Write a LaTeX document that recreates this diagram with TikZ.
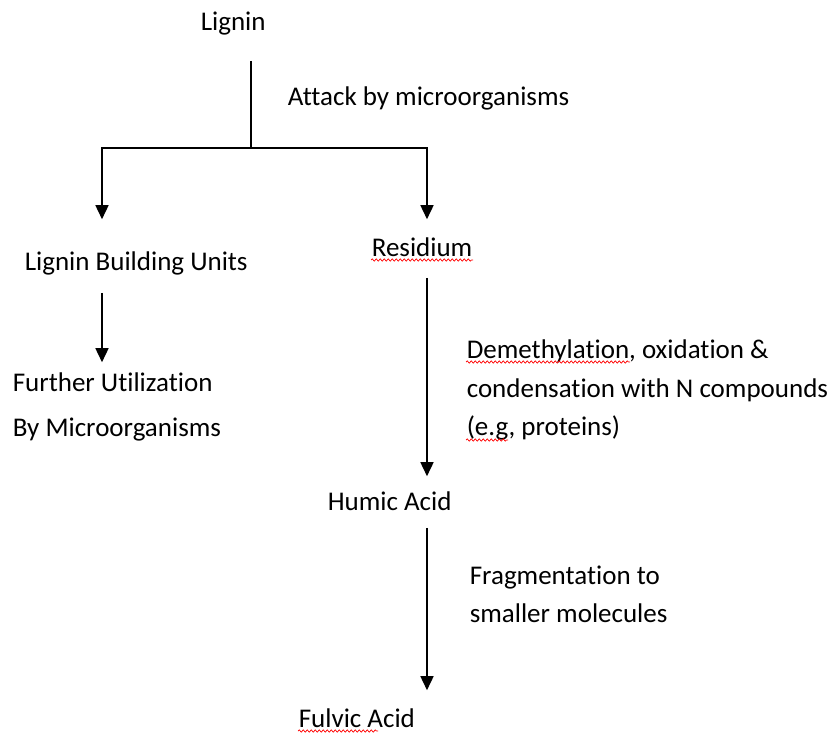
\documentclass[tikz,border=0pt]{standalone}
\usepackage{fontspec}
\setmainfont[Ligatures=NoCommon]{Carlito}
\usetikzlibrary{arrows.meta,decorations.pathmorphing}

\begin{document}
\begin{tikzpicture}[x=1pt, y=-1pt, line width=1.6pt,
  every node/.style={font=\fontsize{27}{31}\selectfont, anchor=base west, inner sep=0pt, text height=19pt, text depth=6pt},
  flow/.style={-{Triangle[length=14pt,width=13pt]}},
  wavy/.style={red, line width=0.7pt, decorate, decoration={snake, amplitude=1.1pt, segment length=4pt}}]
  \useasboundingbox (0,0) rectangle (836,733);
  \coordinate (split) at (251,148);
  \coordinate (colL) at (102,0);
  \coordinate (colR) at (427,0);
  % compounds
  \node (lignin) at (200,31) {Lignin};
  \node (lbu) at (24,270) {Lignin Building Units};
  \node (res) at (371,256) {Residium};
  \node (fu) at (12,391) {Further Utilization};
  \node (bym) at (12,436) {By Microorganisms};
  \node (humic) at (327,510) {Humic Acid};
  \node (fulvic) at (298,727) {Fulvic Acid};
  % process labels
  \node (attack) at (287,106) {Attack by microorganisms};
  \node (demeth) at (466,358) {Demethylation, oxidation \&};
  \node (cond) at (466,397) {condensation with N compounds};
  \node (eg) at (466,435) {(e.g, proteins)};
  \node (frag) at (469,584) {Fragmentation to};
  \node (small) at (469,622) {smaller molecules};
  % connectors
  \draw[shorten <=23pt] (lignin.south -| split) -- (split);
  \draw[flow, shorten >=31pt] (split) -| (lbu.north -| colL);
  \draw[flow, shorten >=17pt] (split) -| (res.north -| colR);
  \draw[flow, shorten <=16pt, shorten >=9pt] (lbu.south -| colL) -- (fu.north -| colL);
  \draw[flow, shorten <=15pt, shorten >=14pt] (res.south -| colR) -- (humic.north -| colR);
  \draw[flow, shorten <=11pt, shorten >=17pt] (humic.south -| colR) -- (fulvic.north -| colR);
  % spell-check marks
  \draw[wavy] ([yshift=-4pt]res.base west) -- ++(102,0);
  \draw[wavy] ([yshift=-4pt]demeth.base west) -- ++(164,0);
  \draw[wavy] ([yshift=-5pt]eg.base west) -- ++(42,0);
  \draw[wavy] ([yshift=-4pt]fulvic.base west) -- ++(80,0);
\end{tikzpicture}
\end{document}
